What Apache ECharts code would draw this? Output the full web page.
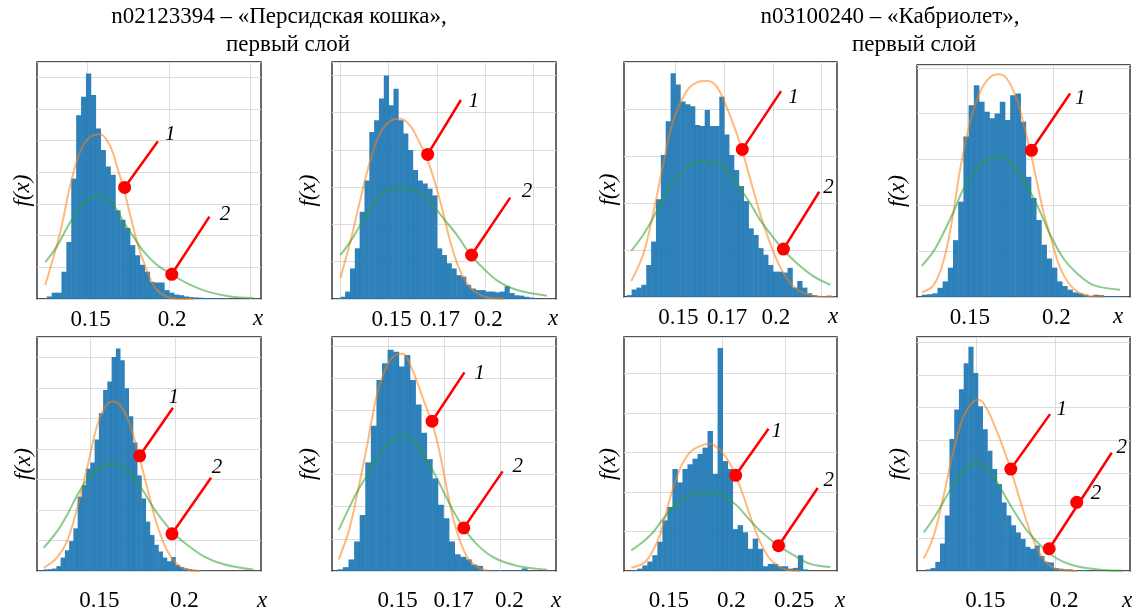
<!DOCTYPE html>
<html>
<head>
<meta charset="utf-8">
<script src="https://cdn.jsdelivr.net/npm/echarts@6/dist/echarts.min.js"></script>
<style>
  html, body { margin: 0; background: #fff; }
  #chart { width: 1138px; height: 612px; }
</style>
</head>
<body>
<div id="chart"></div>
<script>
// ---- histogram bin heights (density) ----
const histStartA = 0.125, histStepA = 0.003;
const histA = [0.4, 1.0, 1.0, 4.3, 9.0, 19.0, 29.0, 31.9, 35.6, 32.2, 26.9, 23.5, 20.9, 19.6, 14.0, 12.5, 11.2, 8.5, 6.9, 5.4, 4.3, 2.7, 2.6, 2.6, 1.4, 1.0, 0.7, 0.6, 0.4, 0.3, 0.25, 0.2, 0.15, 0.1, 0.15, 0.1, 0.1];
const histStartB = 0.125, histStepB = 0.0025;
const histB = [0.3, 1.0, 4.1, 6.8, 11.7, 15.9, 22.4, 24.0, 26.9, 30.0, 26.0, 28.2, 24.0, 22.2, 20.0, 17.3, 15.9, 15.5, 14.8, 13.9, 6.8, 5.9, 4.8, 4.1, 3.2, 3.0, 1.9, 1.4, 1.2, 1.2, 1.0, 1.0, 0.9, 1.0, 1.7, 0.8, 0.5, 0.45, 0.3, 0.2];
const histStartC = 0.125, histStepC = 0.0025;
const histC = [0.2, 0.8, 1.0, 1.3, 3.4, 5.9, 10.4, 15.1, 18.7, 23.8, 22.6, 20.8, 20.5, 20.3, 18.3, 18.2, 19.9, 18.2, 18.2, 21.3, 17.3, 15.1, 13.5, 11.8, 10.2, 7.3, 6.6, 5.2, 4.5, 3.4, 2.7, 2.7, 2.6, 3.1, 1.0, 1.7, 1.0, 0.4, 0.2, 0.1, 0.1, 0.15];
const histStartD = 0.124, histStepD = 0.003;
const histD = [0.25, 0.3, 0.4, 1.0, 1.7, 3.2, 6.2, 10.4, 17.5, 20.9, 23.1, 21.3, 20.2, 19.5, 20.0, 21.3, 19.3, 22.0, 22.2, 19.1, 13.1, 10.8, 8.4, 5.7, 4.2, 3.2, 1.7, 1.2, 0.8, 0.5, 0.4, 0.25, 0.1, 0.25, 0.2, 0.05, 0.1, 0.1];
const histStartE = 0.12, histStepE = 0.0025;
const histE = [0, 0.27, 0.3, 0.4, 0.8, 2.2, 3.4, 4.9, 7.0, 12.2, 14.1, 16.8, 17.8, 21.6, 25.9, 29.7, 31.1, 35.1, 36.5, 34.6, 30.0, 25.4, 21.1, 15.7, 11.9, 8.1, 5.9, 4.3, 3.2, 2.2, 1.6, 2.3, 1.0, 0.65, 0.43, 0.3, 0.2, 0.15, 0.1];
const histStartF = 0.127, histStepF = 0.0025;
const histF = [0.26, 0.6, 1.8, 4.6, 8.7, 16.9, 22.6, 29.7, 32.3, 34.4, 34.1, 31.8, 33.6, 29.7, 25.9, 21.5, 17.4, 14.4, 10.3, 8.2, 4.6, 2.6, 2.2, 1.8, 1.0, 0.8, 0.1, 0.1, 0.1, 0.1, 0.1, 0.1, 0.1, 0.4];
const histStartG = 0.1241, histStepG = 0.004;
const histG = [0, 0.1, 0.3, 0.7, 1.2, 2.0, 3.7, 6.4, 8.1, 12.9, 11.2, 12.9, 13.5, 14.2, 14.8, 15.6, 17.7, 12.3, 28.2, 13.9, 12.9, 5.3, 5.8, 4.9, 2.8, 4.1, 2.8, 0.6, 0.9, 0.9, 0.6, 0.6, 0.3, 0.4, 2.0, 0.2];
const histStartH = 0.118, histStepH = 0.003;
const histH = [0.25, 0.45, 1.4, 4.2, 8.5, 20.2, 24.7, 27.8, 31.8, 34.3, 30.3, 25.2, 21.7, 18.4, 15.6, 13.3, 10.5, 8.5, 7.0, 5.9, 4.9, 3.7, 3.4, 3.9, 2.3, 1.4, 1.3, 0.45, 0.35, 0.25, 0.25, 0.15, 0.1, 0.15];

// ---- fitted curves: 1 (orange) and 2 (green) ----
const curve1A = [[0.1241,2.2],[0.1333,10.6],[0.1394,18.0],[0.1455,23.3],[0.1516,25.6],[0.1578,26.0],[0.1639,24.1],[0.1690,20.1],[0.1720,17.5],[0.1761,13.3],[0.1802,9.1],[0.1843,5.9],[0.1904,2.2],[0.1965,0.6],[0.2047,0.05],[0.2150,0]];
const curve2A = [[0.1241,5.8],[0.1312,8.3],[0.1373,11.2],[0.1435,13.8],[0.1496,15.6],[0.1578,16.2],[0.1659,14.8],[0.1720,12.2],[0.1782,9.8],[0.1843,7.5],[0.1924,5.4],[0.2016,3.9],[0.2108,2.5],[0.2231,1.2],[0.2373,0.4],[0.2516,0.16]];
const curve1B = [[0.1250,2.8],[0.1302,7.7],[0.1353,13.3],[0.1405,18.6],[0.1457,22.3],[0.1509,23.9],[0.1560,24.2],[0.1610,23.3],[0.1660,21.0],[0.1702,18.6],[0.1740,15.6],[0.1780,11.8],[0.1820,7.6],[0.1860,4.4],[0.1900,2.3],[0.1950,0.9],[0.2010,0.2],[0.2100,0]];
const curve2B = [[0.1250,5.9],[0.1302,7.7],[0.1353,9.9],[0.1405,12.1],[0.1457,13.9],[0.1509,14.7],[0.1586,14.9],[0.1647,14.4],[0.1716,13.0],[0.1784,10.8],[0.1853,8.6],[0.1922,6.0],[0.1991,4.1],[0.2060,2.5],[0.2164,1.2],[0.2319,0.45]];
const curve1C = [[0.1273,1.7],[0.1334,4.5],[0.1385,8.8],[0.1437,14.1],[0.1488,18.7],[0.1557,21.9],[0.1608,22.8],[0.1660,23.0],[0.1711,22.4],[0.1763,20.2],[0.1814,17.4],[0.1848,15.2],[0.1883,12.6],[0.1934,8.9],[0.1986,5.7],[0.2037,3.2],[0.2106,1.1],[0.2175,0.3],[0.2243,0.04],[0.2312,0]];
const curve2C = [[0.1273,4.9],[0.1334,6.6],[0.1385,8.4],[0.1437,10.5],[0.1488,12.3],[0.1557,13.7],[0.1625,14.4],[0.1677,14.4],[0.1728,14.1],[0.1780,13.0],[0.1831,11.6],[0.1883,10.0],[0.1934,8.2],[0.2003,6.3],[0.2054,5.0],[0.2123,3.6],[0.2209,2.2],[0.2295,1.3]];
const curve1D = [[0.1240,0.5],[0.1308,1.3],[0.1365,3.9],[0.1413,8.2],[0.1462,14.0],[0.1519,19.1],[0.1577,22.4],[0.1635,24.0],[0.1683,24.3],[0.1731,23.8],[0.1788,21.6],[0.1827,18.9],[0.1865,16.0],[0.1904,12.6],[0.1942,9.3],[0.1990,6.1],[0.2038,3.2],[0.2096,1.3],[0.2154,0.4],[0.2212,0.1],[0.2288,0]];
const curve2D = [[0.1240,3.4],[0.1308,5.0],[0.1365,7.0],[0.1423,9.3],[0.1481,11.8],[0.1558,14.0],[0.1635,15.1],[0.1692,15.3],[0.1750,14.7],[0.1808,13.3],[0.1865,11.5],[0.1923,9.3],[0.1981,6.8],[0.2058,4.2],[0.2135,2.6],[0.2231,1.3],[0.2385,0.8]];
const curve1E = [[0.1225,0.5],[0.1304,2.2],[0.1363,4.9],[0.1422,10.3],[0.1480,16.8],[0.1539,23.8],[0.1588,27.0],[0.1633,27.8],[0.1676,27.2],[0.1725,24.6],[0.1775,20.0],[0.1814,15.9],[0.1853,11.6],[0.1892,7.6],[0.1951,3.4],[0.2010,1.1],[0.2069,0.2],[0.2147,0]];
const curve2E = [[0.1225,3.8],[0.1304,6.5],[0.1363,9.2],[0.1422,12.4],[0.1480,14.9],[0.1559,17.0],[0.1633,17.6],[0.1696,17.0],[0.1755,15.4],[0.1814,13.0],[0.1873,10.3],[0.1931,8.1],[0.1990,6.2],[0.2069,4.3],[0.2167,2.4],[0.2284,1.1],[0.2461,0.2]];
const curve1F = [[0.1276,1.8],[0.1321,6.2],[0.1358,11.8],[0.1403,19.5],[0.1448,27.5],[0.1493,32.0],[0.1530,33.6],[0.1564,33.8],[0.1597,32.0],[0.1627,29.4],[0.1649,27.3],[0.1672,25.1],[0.1694,23.0],[0.1716,20.3],[0.1739,16.6],[0.1761,12.6],[0.1791,7.9],[0.1821,4.5],[0.1858,1.8],[0.1903,0.5],[0.1955,0.05]];
const curve2F = [[0.1276,6.4],[0.1321,9.7],[0.1358,12.3],[0.1403,14.9],[0.1448,17.7],[0.1507,20.0],[0.1560,21.1],[0.1612,20.3],[0.1657,17.9],[0.1701,15.4],[0.1746,12.3],[0.1791,9.2],[0.1836,6.7],[0.1896,4.1],[0.1970,2.1],[0.2075,0.8],[0.2209,0.2]];
const curve1G = [[0.1273,0.4],[0.1393,1.3],[0.1500,4.5],[0.1580,9.1],[0.1660,12.9],[0.1740,15.0],[0.1820,15.8],[0.1900,16.1],[0.1980,15.3],[0.2047,13.9],[0.2105,12.1],[0.2167,9.5],[0.2233,6.4],[0.2300,3.7],[0.2380,1.5],[0.2487,0.3],[0.2620,0]];
const curve2G = [[0.1273,2.6],[0.1367,3.7],[0.1447,4.9],[0.1527,6.6],[0.1607,8.1],[0.1713,9.3],[0.1820,9.9],[0.1913,10.0],[0.2007,9.5],[0.2113,8.3],[0.2220,6.4],[0.2327,4.7],[0.2447,3.2],[0.2567,2.0],[0.2700,0.9],[0.2860,0.5]];
const curve1H = [[0.1167,1.9],[0.1230,5.4],[0.1293,11.5],[0.1357,18.6],[0.1420,23.7],[0.1483,26.0],[0.1515,26.2],[0.1568,24.8],[0.1620,22.0],[0.1673,18.7],[0.1719,15.5],[0.1778,10.8],[0.1842,6.0],[0.1905,2.6],[0.1968,0.8],[0.2053,0.1],[0.2137,0]];
const curve2H = [[0.1167,5.9],[0.1241,8.5],[0.1314,11.5],[0.1378,14.1],[0.1441,15.8],[0.1504,16.5],[0.1568,15.6],[0.1631,13.6],[0.1694,11.0],[0.1757,8.5],[0.1821,6.2],[0.1895,4.2],[0.1968,2.6],[0.2053,1.4],[0.2158,0.6],[0.2306,0.15],[0.2432,0.05]];

// ---- callouts: [x from, y from, x to, y to], dots and number labels ----
const leadersA = [[0.1727,17.6,0.1931,24.9],[0.2016,3.9,0.2247,13.0]];
const dotsA = [[0.1727,17.6],[0.2016,3.9]];
const marksA = [[0.2006,25.9,1],[0.2343,13.4,2]];
const leadersB = [[0.1702,19.4,0.1874,26.7],[0.1929,5.9,0.2129,13.6]];
const dotsB = [[0.1702,19.4],[0.1929,5.9]];
const marksB = [[0.1940,26.5,1],[0.2216,14.4,2]];
const leadersC = [[0.1843,15.7,0.2042,21.9],[0.2054,5.1,0.2238,11.2]];
const dotsC = [[0.1843,15.7],[0.2054,5.1]];
const marksC = [[0.2106,21.2,1],[0.2286,11.7,2]];
const leadersD = [[0.1873,16.0,0.2096,22.2]];
const dotsD = [[0.1873,16.0]];
const marksD = [[0.2154,21.7,1]];
const leadersE = [[0.1790,18.9,0.1986,26.8],[0.1980,6.1,0.2210,15.3]];
const dotsE = [[0.1790,18.9],[0.1980,6.1]];
const marksE = [[0.1990,28.4,1],[0.2245,17.0,2]];
const leadersF = [[0.1694,23.3,0.1839,30.9],[0.1836,6.7,0.2010,15.5]];
const dotsF = [[0.1694,23.3],[0.1836,6.7]];
const marksF = [[0.1907,30.8,1],[0.2078,16.3,2]];
const leadersG = [[0.2105,12.1,0.2367,18.0],[0.2447,3.2,0.2759,10.5]];
const dotsG = [[0.2105,12.1],[0.2447,3.2]];
const marksG = [[0.2433,17.7,1],[0.2847,11.4,2]];
const leadersH = [[0.1719,15.6,0.1968,24.0],[0.1962,3.4,0.2359,18.1]];
const dotsH = [[0.1719,15.6],[0.1962,3.4],[0.2137,10.5]];
const marksH = [[0.2042,24.7,1],[0.2422,18.9,2],[0.2259,11.8,2]];

// ---- x grid lines and tick labels ----
const gridXA = [0.15, 0.2, 0.25], tickXA = [0.15, 0.2], tickTextA = ['0.15', '0.2'];
const gridXB = [0.125, 0.15, 0.175, 0.2, 0.225], tickXB = [0.15, 0.175, 0.2], tickTextB = ['0.15', '0.17', '0.2'];
const gridXC = [0.15, 0.175, 0.2, 0.225], tickXC = [0.15, 0.175, 0.2], tickTextC = ['0.15', '0.17', '0.2'];
const gridXD = [0.15, 0.2], tickXD = [0.15, 0.2], tickTextD = ['0.15', '0.2'];
const gridXE = [0.15, 0.2], tickXE = [0.15, 0.2], tickTextE = ['0.15', '0.2'];
const gridXF = [0.15, 0.175, 0.2], tickXF = [0.15, 0.175, 0.2], tickTextF = ['0.15', '0.17', '0.2'];
const gridXG = [0.15, 0.2, 0.25], tickXG = [0.15, 0.2, 0.25], tickTextG = ['0.15', '0.2', '0.25'];
const gridXH = [0.15, 0.2], tickXH = [0.15, 0.2], tickTextH = ['0.15', '0.2'];

const titleLeft = ['n02123394 – «Персидская кошка»,', 'первый слой'];
const titleRight = ['n03100240 – «Кабриолет»,', 'первый слой'];

const SERIF = '"Liberation Serif", "Times New Roman", serif';
const BLUE = '#1f77b4';

function binsOf(start, step, heights) {
  return heights.map((h, i) => [start + i * step, start + (i + 1) * step, h]);
}

// layout of the 8 small plots
const panels = [
  { box: [37, 62, 224, 237], xr: [0.1190, 0.2563], yMax: 37.4, row: 0, nx: -3, ny: 3,
    hist: binsOf(histStartA, histStepA, histA), c1: curve1A, c2: curve2A, lead: leadersA, dots: dotsA, marks: marksA, gx: gridXA, tx: tickXA, tt: tickTextA },
  { box: [332, 62, 224, 237], xr: [0.1207, 0.2366], yMax: 31.8, row: 0, nx: -3, ny: 12,
    hist: binsOf(histStartB, histStepB, histB), c1: curve1B, c2: curve2B, lead: leadersB, dots: dotsB, marks: marksB, gx: gridXB, tx: tickXB, tt: tickTextB },
  { box: [624, 62, 213, 235], xr: [0.1236, 0.2329], yMax: 25.0, row: 0, nx: -4, ny: 4,
    hist: binsOf(histStartC, histStepC, histC), c1: curve1C, c2: curve2C, lead: leadersC, dots: dotsC, marks: marksC, gx: gridXC, tx: tickXC, tt: tickTextC },
  { box: [917, 65, 213, 232], xr: [0.1212, 0.2442], yMax: 25.3, row: 0, nx: -12, ny: 8,
    hist: binsOf(histStartD, histStepD, histD), c1: curve1D, c2: curve2D, lead: leadersD, dots: dotsD, marks: marksD, gx: gridXD, tx: tickXD, tt: tickTextD },
  { box: [37, 337, 224, 236], xr: [0.1186, 0.2504], yMax: 38.4, row: 1, nx: 1, ny: 2,
    hist: binsOf(histStartE, histStepE, histE), c1: curve1E, c2: curve2E, lead: leadersE, dots: dotsE, marks: marksE, gx: gridXE, tx: tickXE, tt: tickTextE },
  { box: [332, 337, 224, 236], xr: [0.1246, 0.2249], yMax: 36.4, row: 1, nx: 0, ny: 12,
    hist: binsOf(histStartF, histStepF, histF), c1: curve1F, c2: curve2F, lead: leadersF, dots: dotsF, marks: marksF, gx: gridXF, tx: tickXF, tt: tickTextF },
  { box: [624, 337, 213, 235], xr: [0.1215, 0.2913], yMax: 29.6, row: 1, nx: 3, ny: 4,
    hist: binsOf(histStartG, histStepG, histG), c1: curve1G, c2: curve2G, lead: leadersG, dots: dotsG, marks: marksG, gx: gridXG, tx: tickXG, tt: tickTextG },
  { box: [917, 337, 213, 235], xr: [0.1124, 0.2475], yMax: 35.8, row: 1, nx: -3, ny: 7,
    hist: binsOf(histStartH, histStepH, histH), c1: curve1H, c2: curve2H, lead: leadersH, dots: dotsH, marks: marksH, gx: gridXH, tx: tickXH, tt: tickTextH }
];

const grids = [], xAxes = [], yAxes = [], series = [];

panels.forEach((p, i) => {
  grids.push({
    left: p.box[0], top: p.box[1], width: p.box[2], height: p.box[3],
    show: true, backgroundColor: '#fff', borderColor: '#1a1a1a', borderWidth: 1.3
  });
  const labelMargin = p.row === 0 ? 9 : 18;
  const shift = p.row === 0 ? 3 : 9;
  const nameDrop = p.row === 0 ? 8 : 18;
  xAxes.push({
    gridIndex: i, type: 'value', min: p.xr[0], max: p.xr[1],
    axisLine: { show: false },
    axisTick: { show: false, customValues: p.gx },
    splitLine: { show: true, lineStyle: { color: '#dcdcdc', width: 1 } },
    axisLabel: {
      customValues: p.tx,
      formatter: v => {
        const k = p.tx.findIndex(t => Math.abs(t - v) < 1e-9);
        return k >= 0 ? p.tt[k] : '';
      },
      fontFamily: SERIF, fontSize: 23, color: '#000', margin: labelMargin,
      padding: [0, 0, 0, shift * 2]
    },
    name: 'x', nameLocation: 'end', nameGap: p.nx,
    nameTextStyle: {
      fontFamily: SERIF, fontStyle: 'italic', fontSize: 23, color: '#000',
      align: 'center', verticalAlign: 'top', padding: [nameDrop, 0, 0, 0]
    }
  });
  yAxes.push({
    gridIndex: i, type: 'value', min: 0, max: p.yMax, interval: 5,
    axisLine: { show: false }, axisTick: { show: false }, axisLabel: { show: false },
    splitLine: { show: true, lineStyle: { color: '#dcdcdc', width: 1 } },
    name: 'f(x)', nameLocation: 'middle', nameGap: p.ny,
    nameTextStyle: {
      fontFamily: SERIF, fontStyle: 'italic', fontSize: 23, color: '#000',
      padding: [0, 20, 0, 0]
    }
  });

  series.push({
    type: 'custom', xAxisIndex: i, yAxisIndex: i, z: 1, silent: true,
    data: p.hist,
    renderItem: (params, api) => {
      const a = api.coord([api.value(0), api.value(2)]);
      const b = api.coord([api.value(1), 0]);
      return { type: 'rect', shape: { x: a[0], y: a[1], width: b[0] - a[0] + 0.4, height: b[1] - a[1] },
        style: { fill: BLUE, opacity: 0.93 } };
    }
  });
  series.push({
    type: 'line', xAxisIndex: i, yAxisIndex: i, z: 2, data: p.c1, smooth: 0.35,
    symbol: 'none', lineStyle: { color: 'rgba(255,127,14,0.55)', width: 2 }
  });
  series.push({
    type: 'line', xAxisIndex: i, yAxisIndex: i, z: 2, data: p.c2, smooth: 0.35,
    symbol: 'none', lineStyle: { color: 'rgba(44,160,44,0.55)', width: 2 }
  });
  series.push({
    type: 'custom', xAxisIndex: i, yAxisIndex: i, z: 3, silent: true,
    data: p.lead,
    renderItem: (params, api) => {
      const a = api.coord([api.value(0), api.value(1)]);
      const b = api.coord([api.value(2), api.value(3)]);
      return { type: 'line', shape: { x1: a[0], y1: a[1], x2: b[0], y2: b[1] },
        style: { stroke: '#ff0000', lineWidth: 2.5 } };
    }
  });
  series.push({
    type: 'scatter', xAxisIndex: i, yAxisIndex: i, z: 4, data: p.dots,
    symbolSize: 13, itemStyle: { color: '#ff0000', opacity: 1 }
  });
  series.push({
    type: 'custom', xAxisIndex: i, yAxisIndex: i, z: 5, silent: true,
    data: p.marks,
    renderItem: (params, api) => {
      const a = api.coord([api.value(0), api.value(1)]);
      return { type: 'text', x: a[0], y: a[1],
        style: { text: String(api.value(2)), fontFamily: SERIF, fontStyle: 'italic', fontSize: 21,
          fill: '#000', align: 'center', verticalAlign: 'middle' } };
    }
  });
});

function titleText(text, x, y) {
  return { type: 'text', x: x, y: y,
    style: { text: text, fontFamily: SERIF, fontSize: 23, fill: '#000',
      align: 'center', verticalAlign: 'middle' } };
}

const chart = echarts.init(document.getElementById('chart'));
chart.setOption({
  animation: false,
  backgroundColor: '#fff',
  graphic: [
    titleText(titleLeft[0], 279, 17),
    titleText(titleLeft[1], 288, 45),
    titleText(titleRight[0], 890, 17),
    titleText(titleRight[1], 914, 45)
  ],
  grid: grids,
  xAxis: xAxes,
  yAxis: yAxes,
  series: series
});
</script>
</body>
</html>
